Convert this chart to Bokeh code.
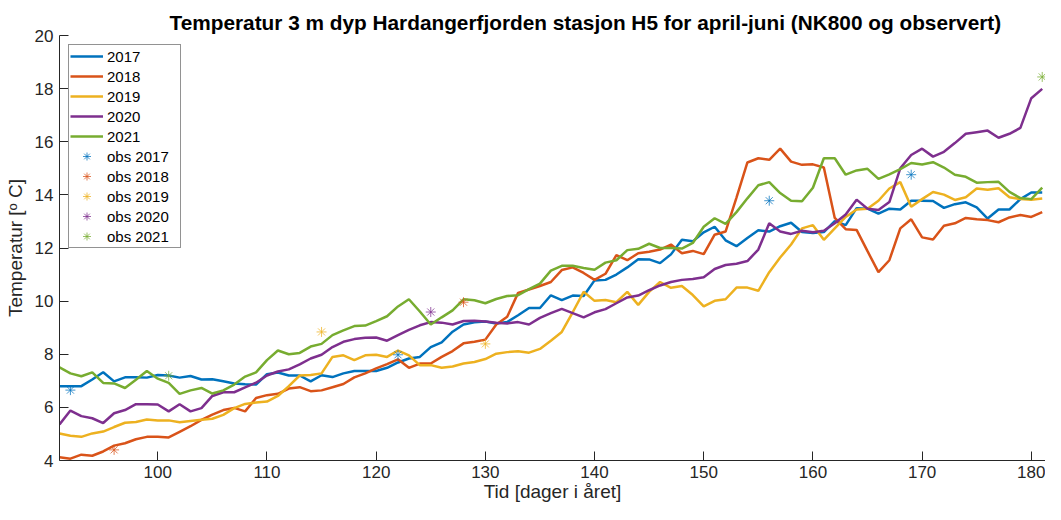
from bokeh.plotting import figure
from bokeh.models import FixedTicker, Legend, LegendItem
from bokeh.embed import file_html
from bokeh.resources import INLINE

days = list(range(91, 182))

t2017 = [6.80, 6.80, 6.80, 7.05, 7.32, 6.98, 7.13, 7.13, 7.12, 7.22,
         7.20, 7.12, 7.18, 7.05, 7.06, 6.98, 6.90, 6.87, 6.86, 7.25,
         7.31, 7.20, 7.20, 6.98, 7.21, 7.14, 7.28, 7.37, 7.37, 7.37,
         7.49, 7.69, 7.84, 7.90, 8.27, 8.45, 8.85, 9.12, 9.20, 9.23,
         9.16, 9.21, 9.47, 9.74, 9.74, 10.22, 10.04, 10.21, 10.19, 10.78,
         10.80, 11.00, 11.27, 11.58, 11.57, 11.43, 11.76, 12.31, 12.25, 12.59,
         12.80, 12.29, 12.07, 12.38, 12.67, 12.62, 12.82, 12.95, 12.60, 12.56,
         12.60, 13.01, 12.86, 13.50, 13.48, 13.29, 13.48, 13.45, 13.78, 13.78,
         13.77, 13.51, 13.65, 13.72, 13.53, 13.11, 13.45, 13.45, 13.84, 14.09,
         14.09]

t2018 = [4.12, 4.07, 4.22, 4.18, 4.34, 4.56, 4.65, 4.80, 4.89, 4.89,
         4.87, 5.08, 5.29, 5.53, 5.73, 5.90, 5.98, 5.85, 6.35, 6.46,
         6.51, 6.71, 6.76, 6.61, 6.64, 6.76, 6.88, 7.13, 7.28, 7.47,
         7.63, 7.81, 7.49, 7.65, 7.65, 7.90, 8.12, 8.41, 8.47, 8.55,
         9.12, 9.41, 10.31, 10.44, 10.57, 10.72, 11.17, 11.27, 11.06, 10.80,
         11.03, 11.73, 11.54, 11.80, 11.86, 11.94, 12.13, 11.80, 11.89, 11.77,
         12.50, 12.62, 13.90, 15.22, 15.38, 15.32, 15.74, 15.25, 15.13, 15.15,
         15.03, 13.13, 12.71, 12.68, 11.88, 11.09, 11.54, 12.74, 13.08, 12.40,
         12.32, 12.84, 12.93, 13.13, 13.08, 13.05, 12.97, 13.15, 13.24, 13.17,
         13.35]

t2019 = [5.02, 4.93, 4.89, 5.02, 5.09, 5.26, 5.42, 5.45, 5.54, 5.51,
         5.51, 5.44, 5.49, 5.53, 5.57, 5.72, 5.97, 6.13, 6.18, 6.22,
         6.43, 6.80, 7.20, 7.22, 7.28, 7.90, 7.96, 7.78, 7.96, 7.98,
         7.90, 8.14, 7.96, 7.59, 7.59, 7.49, 7.54, 7.65, 7.71, 7.82,
         8.02, 8.08, 8.11, 8.06, 8.20, 8.51, 8.84, 9.58, 10.35, 10.01,
         10.04, 9.96, 10.35, 9.86, 10.35, 10.72, 10.50, 10.57, 10.23, 9.80,
         10.01, 10.07, 10.51, 10.51, 10.39, 11.09, 11.64, 12.13, 12.74, 12.86,
         12.31, 12.74, 13.17, 13.45, 13.48, 13.78, 14.24, 14.48, 13.55, 13.84,
         14.11, 14.01, 13.81, 13.91, 14.24, 14.19, 14.25, 13.91, 13.84, 13.82,
         13.86]

t2020 = [5.36, 5.88, 5.67, 5.59, 5.41, 5.78, 5.90, 6.12, 6.12, 6.11,
         5.85, 6.12, 5.85, 5.97, 6.43, 6.57, 6.57, 6.75, 6.93, 7.20,
         7.35, 7.43, 7.62, 7.84, 7.98, 8.27, 8.47, 8.57, 8.62, 8.63,
         8.51, 8.72, 8.92, 9.09, 9.21, 9.19, 9.12, 9.25, 9.26, 9.23,
         9.19, 9.16, 9.21, 9.12, 9.37, 9.55, 9.71, 9.55, 9.39, 9.58,
         9.70, 9.92, 10.14, 10.21, 10.41, 10.59, 10.72, 10.80, 10.83, 10.90,
         11.21, 11.36, 11.41, 11.51, 11.94, 12.93, 12.62, 12.53, 12.65, 12.59,
         12.65, 12.93, 13.26, 13.82, 13.48, 13.43, 13.73, 15.00, 15.50, 15.74,
         15.44, 15.62, 15.95, 16.30, 16.36, 16.42, 16.15, 16.30, 16.52, 17.64,
         17.99]

t2021 = [7.51, 7.28, 7.17, 7.32, 6.92, 6.90, 6.73, 7.04, 7.37, 7.08,
         6.92, 6.51, 6.64, 6.73, 6.52, 6.64, 6.86, 7.16, 7.32, 7.78,
         8.14, 8.00, 8.05, 8.29, 8.39, 8.72, 8.90, 9.06, 9.08, 9.25,
         9.43, 9.80, 10.07, 9.61, 9.12, 9.39, 9.65, 10.07, 10.03, 9.92,
         10.08, 10.19, 10.22, 10.45, 10.66, 11.15, 11.33, 11.33, 11.25, 11.18,
         11.45, 11.54, 11.92, 11.97, 12.16, 12.00, 12.00, 11.98, 12.19, 12.80,
         13.12, 12.91, 13.35, 13.87, 14.36, 14.48, 14.07, 13.78, 13.76, 14.27,
         15.38, 15.38, 14.76, 14.92, 14.98, 14.60, 14.77, 14.97, 15.20, 15.14,
         15.23, 15.03, 14.76, 14.68, 14.46, 14.48, 14.49, 14.11, 13.88, 13.84,
         14.27]

obs2017_day = [92, 122, 156, 169]
obs2017_temp = [6.65, 7.98, 13.78, 14.76]
obs2018_day = [96, 128]
obs2018_temp = [4.40, 9.96]
obs2019_day = [115, 130]
obs2019_temp = [8.84, 8.39]
obs2020_day = [125]
obs2020_temp = [9.59]
obs2021_day = [101, 181]
obs2021_temp = [7.19, 18.44]

years = ["2017", "2018", "2019", "2020", "2021"]
colors = ["#0072BD", "#D95319", "#EDB120", "#7E2F8E", "#77AC30"]
series = [t2017, t2018, t2019, t2020, t2021]
obs = [(obs2017_day, obs2017_temp), (obs2018_day, obs2018_temp),
       (obs2019_day, obs2019_temp), (obs2020_day, obs2020_temp),
       (obs2021_day, obs2021_temp)]

title_text = "Temperatur 3 m dyp Hardangerfjorden stasjon H5 for april-juni (NK800 og observert)"
xlabel_text = "Tid [dager i året]"
ylabel_text = "Temperatur [ᵒ C]"

FONT = "Liberation Sans"
AX = "#262626"

p = figure(width=1045, height=504, x_range=(91, 181.3), y_range=(4, 20),
           output_backend="svg", toolbar_location=None, title=title_text,
           min_border_left=59, min_border_right=0, min_border_top=35, min_border_bottom=30)

p.title.text_font = FONT
p.title.text_font_size = "20.8px"
p.title.text_font_style = "bold"
p.title.text_color = "#000000"
p.title.align = "left"
p.title.offset = 110
p.title.standoff = 4

p.outline_line_color = None
p.background_fill_color = "white"
p.border_fill_color = "white"
p.xgrid.grid_line_color = None
p.ygrid.grid_line_color = None

for ax in (p.xaxis[0], p.yaxis[0]):
    ax.axis_line_color = AX
    ax.axis_line_width = 1
    ax.major_tick_line_color = AX
    ax.major_tick_in = 9
    ax.major_tick_out = 0
    ax.minor_tick_line_color = None
    ax.major_label_text_font = FONT
    ax.major_label_text_font_size = "17px"
    ax.major_label_text_color = AX
    ax.axis_label_text_font = FONT
    ax.axis_label_text_font_size = "19px"
    ax.axis_label_text_font_style = "normal"
    ax.axis_label_text_color = AX

p.xaxis.ticker = FixedTicker(ticks=[100, 110, 120, 130, 140, 150, 160, 170, 180])
p.yaxis.ticker = FixedTicker(ticks=[4, 6, 8, 10, 12, 14, 16, 18, 20])
p.xaxis.axis_label = xlabel_text
p.yaxis.axis_label = ylabel_text
p.xaxis.major_label_standoff = 5
p.xaxis.axis_label_standoff = 0
p.yaxis.major_label_standoff = 6
p.yaxis.axis_label_standoff = 6

line_items = []
obs_items = []
for yr, col, ser in zip(years, colors, series):
    r = p.line(days, ser, line_color=col, line_width=2.5)
    line_items.append(LegendItem(label=yr, renderers=[r]))
for yr, col, (od, ot) in zip(years, colors, obs):
    s = p.scatter(od, ot, marker="asterisk", size=10, line_color=col,
                  line_width=1, line_alpha=0.75)
    obs_items.append(LegendItem(label="obs " + yr, renderers=[s]))

legend = Legend(items=line_items + obs_items, location="top_left")
legend.margin = 9
legend.padding = 1
legend.spacing = 0
legend.label_height = 20
legend.label_width = 72
legend.glyph_height = 20
legend.glyph_width = 33
legend.label_standoff = 4
legend.label_text_font = FONT
legend.label_text_font_size = "15px"
legend.label_text_color = "#000000"
legend.border_line_color = AX
legend.border_line_width = 0.6
legend.background_fill_color = "white"
legend.background_fill_alpha = 1
p.add_layout(legend)

open("out.html", "w").write(file_html(p, INLINE))
